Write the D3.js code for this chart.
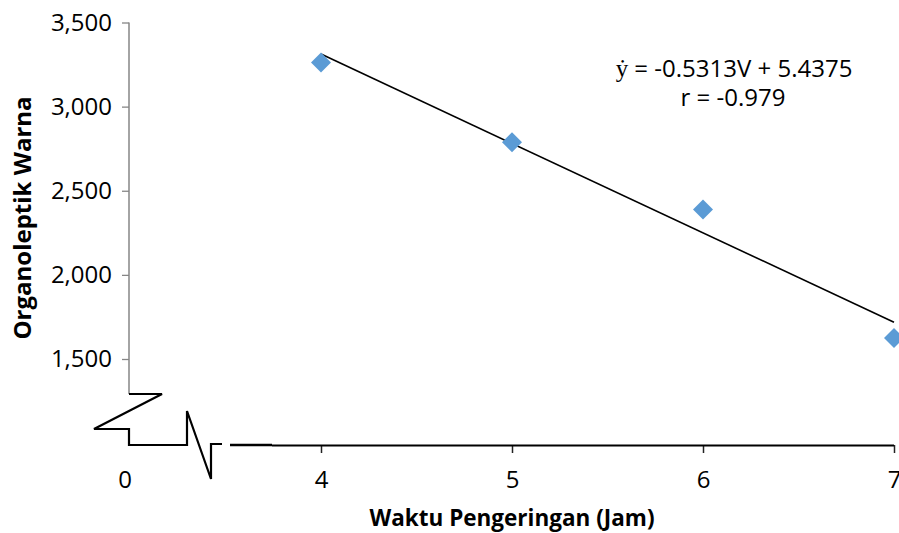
<!doctype html>
<html>
<head>
<meta charset="utf-8">
<script src="https://cdnjs.cloudflare.com/ajax/libs/d3/7.8.5/d3.min.js"></script>
<style>
  body { margin: 0; background: #fff; }
  text { font-family: "Open Sans", "Noto Sans", sans-serif; fill: #000; }
</style>
</head>
<body>
<svg id="chart" width="899" height="533"></svg>
<script>
// data
var waktu = [4, 5, 6, 7];
var warna = [3262, 2788, 2388, 1625];
var yTicks = [1500, 2000, 2500, 3000, 3500];
var xTicks = [4, 5, 6, 7];
var slope = -0.5313, intercept = 5.4375;   // equation in thousands
var eqText = ["-0.5313V + 5.4375", "r = -0.979"];

var svg = d3.select("#chart");

var axisX = 129,     // where the y axis sits
    axisY = 445;     // where the x axis sits

var x = d3.scaleLinear().domain([4, 7]).range([321, 894]);
var y = d3.scaleLinear().domain([1500, 3500]).range([359, 22.5]);

// y axis
var gy = svg.append("g")
    .attr("transform", "translate(" + axisX + ",0)")
    .call(d3.axisLeft(y).tickValues(yTicks).tickSize(7).tickPadding(10)
        .tickFormat(d3.format(",")));
gy.select(".domain").remove();
gy.selectAll(".tick line").attr("stroke", "#868686").attr("stroke-width", 1.3);
gy.selectAll(".tick text").attr("font-size", 24).attr("font-family", "Open Sans");

var breakTop = 394;
svg.append("line")
    .attr("x1", axisX).attr("x2", axisX)
    .attr("y1", y(3500)).attr("y2", breakTop)
    .attr("stroke", "#868686").attr("stroke-width", 1.5);

// x axis
var gx = svg.append("g")
    .attr("transform", "translate(0," + axisY + ")")
    .call(d3.axisBottom(x).tickValues(xTicks).tickSize(8).tickPadding(18)
        .tickFormat(d3.format("d")));
gx.select(".domain").remove();
gx.selectAll(".tick line").attr("stroke", "#222").attr("stroke-width", 1.5);
gx.selectAll(".tick text").attr("font-size", 24).attr("font-family", "Open Sans");

// x axis line, from the break out to the last tick
svg.append("path")
    .attr("d", "M" + (axisX + 143) + "," + (axisY + 0.5) + "H" + x(7))
    .attr("fill", "none")
    .attr("stroke", "#000").attr("stroke-width", 2);

// axis break on y axis (Z shape) and x axis zigzag
svg.append("path")
    .attr("d", "M" + axisX + "," + breakTop +
        " h33 L" + (axisX - 35) + "," + (breakTop + 35) +
        " H" + axisX + " V" + axisY + " H" + (axisX + 58) +
        " V" + (axisY - 34) + " L" + (axisX + 82) + "," + (axisY + 34) +
        " V" + (axisY - 1) + " H" + (axisX + 93))
    .attr("fill", "none").attr("stroke", "#000").attr("stroke-width", 2.2);
svg.append("path")
    .attr("d", "M" + (axisX + 101) + "," + axisY + "H" + (axisX + 143))
    .attr("stroke", "#000").attr("stroke-width", 2.4);

// the "0" at the broken origin
svg.append("text")
    .attr("x", axisX - 4).attr("y", 488)
    .attr("text-anchor", "middle")
    .attr("font-family", "Liberation Serif")
    .attr("font-size", 24)
    .text("0");

// trend line
svg.append("line")
    .attr("x1", x(4)).attr("y1", y((intercept + slope * 4) * 1000))
    .attr("x2", x(7)).attr("y2", y((intercept + slope * 7) * 1000))
    .attr("stroke", "#000").attr("stroke-width", 1.6);

// points
svg.selectAll(".pt")
    .data(waktu)
    .enter().append("path")
    .attr("class", "pt")
    .attr("d", d3.symbol().type(d3.symbolSquare).size(200))
    .attr("transform", function(d, i) {
        return "translate(" + x(d) + "," + y(warna[i]) + ") rotate(45)";
    })
    .attr("fill", "#5B9BD5");

// equation
var eq = svg.append("text")
    .attr("x", 734).attr("y", 77)
    .attr("text-anchor", "middle")
    .attr("font-size", 24);
eq.append("tspan").attr("font-family", "Liberation Serif").attr("font-size", 25).text("ẏ");
eq.append("tspan").text(" = " + eqText[0]);
svg.append("text")
    .attr("x", 733).attr("y", 106)
    .attr("text-anchor", "middle")
    .attr("font-size", 24)
    .text(eqText[1]);

// axis titles
svg.append("text")
    .attr("x", 512).attr("y", 526)
    .attr("text-anchor", "middle")
    .attr("font-size", 22.5).attr("font-weight", "bold")
    .text("Waktu Pengeringan (Jam)");
svg.append("text")
    .attr("transform", "translate(31,218) rotate(-90)")
    .attr("text-anchor", "middle")
    .attr("font-size", 24).attr("font-weight", "bold")
    .text("Organoleptik Warna");
</script>
</body>
</html>
